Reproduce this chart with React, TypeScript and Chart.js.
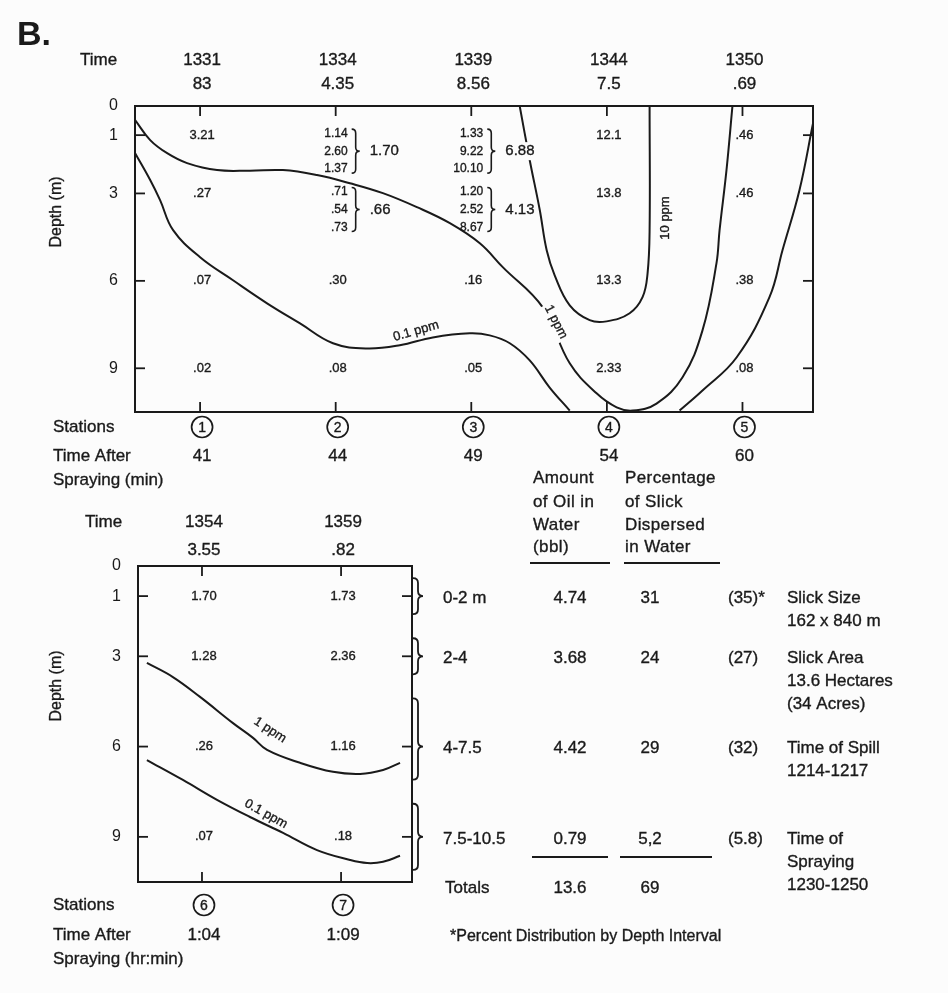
import React, { useEffect, useRef } from 'react';
import { Chart, registerables } from 'chart.js';

Chart.register(...registerables);

const W = 948;
const H = 993;
const FONT = '"Liberation Sans", Arial, Helvetica, sans-serif';
const INK = '#1a1a1a';

// ---------- axis / station data ----------
const depthTicks = [0, 1, 3, 6, 9];
const sampleDepths = [1, 3, 6, 9];

const topStations = [1, 2, 3, 4, 5];
const topTimes = ['1331', '1334', '1339', '1344', '1350'];
const topSurface = ['83', '4.35', '8.56', '7.5', '.69'];
const topMinutes = ['41', '44', '49', '54', '60'];

// concentrations (ppm) per station, per sample depth (replicates stacked)
const topConc1 = [['3.21'], ['.27'], ['.07'], ['.02']];
const topConc2 = [['1.14', '2.60', '1.37'], ['.71', '.54', '.73'], ['.30'], ['.08']];
const topConc3 = [['1.33', '9.22', '10.10'], ['1.20', '2.52', '8.67'], ['.16'], ['.05']];
const topConc4 = [['12.1'], ['13.8'], ['13.3'], ['2.33']];
const topConc5 = [['.46'], ['.46'], ['.38'], ['.08']];
const topMeans2 = ['1.70', '.66', null, null];
const topMeans3 = ['6.88', '4.13', null, null];

const botStations = [6, 7];
const botTimes = ['1354', '1359'];
const botSurface = ['3.55', '.82'];
const botElapsed = ['1:04', '1:09'];
const botConc6 = ['1.70', '1.28', '.26', '.07'];
const botConc7 = ['1.73', '2.36', '1.16', '.18'];

// contour lines [station position, depth m]
const top10ppm = [[3.357, 0], [3.431, 1.86], [3.505, 3.57], [3.556, 4.95], [3.615, 5.81], [3.726, 6.84], [3.873, 7.35], [3.998, 7.39], [4.168, 7.11], [4.263, 6.56], [4.3, 5.74], [4.315, 4.26], [4.315, 0]];
const top1ppm = [[0.521, 0.48], [0.632, 1.17], [0.757, 1.62], [0.904, 1.96], [1.125, 2.2], [1.368, 2.22], [1.611, 2.2], [1.862, 2.37], [2.105, 2.65], [2.348, 2.99], [2.599, 3.47], [2.842, 4.02], [3.063, 4.71], [3.232, 5.53], [3.527, 6.91], [3.726, 8.83], [3.924, 9.86], [4.072, 10.34], [4.19, 10.45], [4.366, 10.21], [4.558, 9.31], [4.705, 7.7], [4.808, 5.4], [4.831, 4.26], [4.882, 2.2], [4.926, 0]];
const top01ppmA = [[0.521, 1.62], [0.632, 2.54], [0.705, 3.23], [0.801, 4.26], [1.0, 5.19], [1.243, 5.98], [1.494, 6.77], [1.737, 7.46], [1.98, 8.14], [2.23, 8.32], [2.473, 8.21], [2.716, 7.94], [2.989, 7.8], [3.136, 7.87], [3.284, 8.14], [3.431, 8.73], [3.578, 9.66], [3.726, 10.45]];
const top01ppmB = [[4.536, 10.45], [4.705, 9.76], [4.956, 8.63], [5.199, 6.56], [5.295, 4.95], [5.42, 2.89], [5.52, 0.6]];
const bot1ppm = [[5.604, 3.22], [5.791, 3.69], [5.986, 4.35], [6.223, 5.22], [6.367, 5.71], [6.468, 6.11], [6.705, 6.54], [6.942, 6.84], [7.137, 6.91], [7.302, 6.78], [7.424, 6.54]];
const bot01ppm = [[5.604, 6.45], [5.863, 7.11], [6.108, 7.77], [6.345, 8.34], [6.583, 8.87], [6.827, 9.44], [7.065, 9.77], [7.187, 9.87], [7.302, 9.83], [7.424, 9.63]];

// table
const depthIntervals = ['0-2 m', '2-4', '4-7.5', '7.5-10.5'];
const intervalBounds = [[0, 2], [2, 4], [4, 7.5], [7.5, 10.5]];
const oilAmount = ['4.74', '3.68', '4.42', '0.79'];
const slickPct = ['31', '24', '29', '5,2'];
const distPct = ['(35)*', '(27)', '(32)', '(5.8)'];
const totalAmount = '13.6';
const totalPct = '69';
const notes = [['Slick Size', '162 x 840 m'], ['Slick Area', '13.6 Hectares', '(34 Acres)'], ['Time of Spill', '1214-1217'], ['Time of', 'Spraying', '1230-1250']];

// ---------- drawing helpers ----------
type TOpt = { size?: number; align?: CanvasTextAlign; weight?: string; rot?: number; bg?: boolean; sp?: number };
function txt(ctx: CanvasRenderingContext2D, s: string, x: number, y: number, o: TOpt = {}) {
  ctx.save();
  const sz = o.size || 17;
  ctx.font = `${o.weight || 'normal'} ${sz}px ${FONT}`;
  ctx.fillStyle = INK;
  ctx.strokeStyle = INK;
  ctx.textAlign = o.align || 'center';
  ctx.textBaseline = 'middle';
  if ('letterSpacing' in ctx) (ctx as any).letterSpacing = `${o.sp ?? 0}px`;
  ctx.translate(x, y);
  if (o.rot) ctx.rotate((o.rot * Math.PI) / 180);
  if (o.bg) {
    const w = ctx.measureText(s).width;
    const x0 = o.align === 'left' ? 0 : o.align === 'right' ? -w : -w / 2;
    ctx.fillStyle = '#fcfcfc';
    ctx.fillRect(x0 - 2, -sz * 0.6, w + 4, sz * 1.2);
    ctx.fillStyle = INK;
  }
  ctx.fillText(s, 0, 0);
  if (o.weight !== 'bold') {
    ctx.lineWidth = 0.35;
    ctx.strokeText(s, 0, 0);
  }
  ctx.restore();
}
function seg(ctx: CanvasRenderingContext2D, x1: number, y1: number, x2: number, y2: number, lw = 2) {
  ctx.save();
  ctx.strokeStyle = INK;
  ctx.lineWidth = lw;
  ctx.beginPath();
  ctx.moveTo(x1, y1);
  ctx.lineTo(x2, y2);
  ctx.stroke();
  ctx.restore();
}
function brace(ctx: CanvasRenderingContext2D, x: number, y1: number, y2: number, yt: number, w: number, lw = 1.6) {
  ctx.save();
  ctx.strokeStyle = INK;
  ctx.lineWidth = lw;
  ctx.beginPath();
  ctx.moveTo(x - w, y1);
  ctx.quadraticCurveTo(x, y1, x, y1 + w);
  ctx.lineTo(x, yt - w);
  ctx.quadraticCurveTo(x, yt, x + w, yt);
  ctx.quadraticCurveTo(x, yt, x, yt + w);
  ctx.lineTo(x, y2 - w);
  ctx.quadraticCurveTo(x, y2, x - w, y2);
  ctx.stroke();
  ctx.restore();
}
function circled(ctx: CanvasRenderingContext2D, x: number, y: number, n: number) {
  ctx.save();
  ctx.strokeStyle = INK;
  ctx.lineWidth = 1.7;
  ctx.beginPath();
  ctx.arc(x, y, 10.5, 0, Math.PI * 2);
  ctx.stroke();
  ctx.restore();
  txt(ctx, String(n), x, y + 1, { size: 14 });
}
function frame(ctx: CanvasRenderingContext2D, a: any) {
  ctx.save();
  ctx.strokeStyle = INK;
  ctx.lineWidth = 2;
  ctx.strokeRect(a.left, a.top, a.right - a.left, a.bottom - a.top);
  ctx.restore();
}
function innerTicks(ctx: CanvasRenderingContext2D, chart: any, stations: number[]) {
  const a = chart.chartArea;
  const { x, y } = chart.scales;
  stations.forEach((s) => {
    const px = x.getPixelForValue(s);
    seg(ctx, px, a.top, px, a.top + 10, 1.8);
    seg(ctx, px, a.bottom, px, a.bottom - 10, 1.8);
  });
  sampleDepths.forEach((d) => {
    const py = y.getPixelForValue(d);
    seg(ctx, a.left, py, a.left + 10, py, 1.8);
    seg(ctx, a.right, py, a.right - 10, py, 1.8);
  });
}

const lineDs = (label: string, pts: number[][]) => ({
  label,
  data: pts.map(([x, y]) => ({ x, y })),
  borderColor: INK,
  borderWidth: 2,
  pointRadius: 0,
  tension: 0.4,
  fill: false,
});

const yAxis = (width: number) => ({
  type: 'linear',
  reverse: true,
  min: 0,
  max: 10.5,
  afterBuildTicks: (s: any) => {
    s.ticks = depthTicks.map((v) => ({ value: v }));
  },
  afterFit: (s: any) => {
    s.width = width;
  },
  grid: { display: false, drawTicks: false },
  border: { display: false },
  ticks: { font: { family: FONT, size: 16 }, color: INK, padding: 17 },
});

// ---------- top plugin ----------
const topPlugin = {
  id: 'topFigure',
  afterDatasetsDraw(chart: any) {
    const ctx: CanvasRenderingContext2D = chart.ctx;
    const a = chart.chartArea;
    const { x, y } = chart.scales;
    frame(ctx, a);
    innerTicks(ctx, chart, topStations);

    txt(ctx, 'B.', 17, 36, { size: 34, weight: 'bold', align: 'left' });
    txt(ctx, 'Time', 80, 60, { align: 'left' });
    txt(ctx, 'Depth (m)', 57, 212, { size: 16, rot: -90 });
    txt(ctx, 'Stations', 53, 427, { align: 'left' });
    txt(ctx, 'Time After', 53, 456, { align: 'left' });
    txt(ctx, 'Spraying (min)', 53, 480, { align: 'left' });

    const concs = [topConc1, topConc2, topConc3, topConc4, topConc5];
    const means = [null, topMeans2, topMeans3, null, null];
    topStations.forEach((s, i) => {
      const px = x.getPixelForValue(s) + 2;
      txt(ctx, topTimes[i], px, 60);
      txt(ctx, topSurface[i], px, 84);
      circled(ctx, px, 427, s);
      txt(ctx, topMinutes[i], px, 456);
      sampleDepths.forEach((d, j) => {
        const py = y.getPixelForValue(d);
        const vals = concs[i][j];
        if (vals.length === 1) {
          txt(ctx, vals[0], px, py, { size: 13 });
        } else {
          const offs = [-1.5, 16.5, 34];
          vals.forEach((v, k) => txt(ctx, v, px + 10, py + offs[k], { size: 12, align: 'right' }));
          const m = means[i] ? (means[i] as any)[j] : null;
          const sp = px + 18;
          brace(ctx, sp, py - 6, py + 38, py + 16, 4, 1.6);
          if (m) txt(ctx, m, sp + 14, py + 16, { size: 15, align: 'left', bg: true });
        }
      });
    });

    txt(ctx, '10 ppm', 665, 218, { size: 13, rot: -90 });
    txt(ctx, '1 ppm', 556, 322, { size: 13, rot: 63, bg: true });
    txt(ctx, '0.1 ppm', 416, 331, { size: 13, rot: -16 });
  },
};

// ---------- bottom plugin ----------
const botPlugin = {
  id: 'botFigure',
  afterDatasetsDraw(chart: any) {
    const ctx: CanvasRenderingContext2D = chart.ctx;
    const a = chart.chartArea;
    const { x, y } = chart.scales;
    frame(ctx, a);
    innerTicks(ctx, chart, botStations);

    txt(ctx, 'Time', 85, 522, { align: 'left' });
    txt(ctx, 'Depth (m)', 57, 686, { size: 16, rot: -90 });
    txt(ctx, 'Stations', 53, 905, { align: 'left' });
    txt(ctx, 'Time After', 53, 935, { align: 'left' });
    txt(ctx, 'Spraying (hr:min)', 53, 959, { align: 'left' });

    const concs = [botConc6, botConc7];
    botStations.forEach((s, i) => {
      const px = x.getPixelForValue(s) + 2;
      txt(ctx, botTimes[i], px, 522);
      txt(ctx, botSurface[i], px, 550);
      circled(ctx, px, 905, s);
      txt(ctx, botElapsed[i], px, 935);
      sampleDepths.forEach((d, j) => txt(ctx, concs[i][j], px, y.getPixelForValue(d), { size: 13 }));
    });

    txt(ctx, '1 ppm', 270, 730, { size: 13, rot: 33 });
    txt(ctx, '0.1 ppm', 266, 814, { size: 13, rot: 29 });

    // braces for depth intervals
    intervalBounds.forEach(([lo, hi], i) => {
      const y1 = y.getPixelForValue(lo + 0.4);
      const y2 = y.getPixelForValue(hi - 0.4);
      const yt = y.getPixelForValue(sampleDepths[i]);
      brace(ctx, a.right + 6, y1, y2, yt, 5, 1.8);
    });

    // table headers
    const hA = ['Amount', 'of Oil in', 'Water', '(bbl)'];
    const hP = ['Percentage', 'of Slick', 'Dispersed', 'in Water'];
    const hy = [478, 502, 525, 547];
    hA.forEach((s, k) => txt(ctx, s, 533, hy[k], { align: 'left', sp: 0.4 }));
    hP.forEach((s, k) => txt(ctx, s, 625, hy[k], { align: 'left', sp: 0.4 }));
    seg(ctx, 530, 563, 610, 563, 1.8);
    seg(ctx, 624, 563, 720, 563, 1.8);

    depthIntervals.forEach((lab, i) => {
      const ry = y.getPixelForValue(sampleDepths[i]) + 2;
      txt(ctx, lab, 443, ry, { align: 'left' });
      txt(ctx, oilAmount[i], 570, ry);
      txt(ctx, slickPct[i], 650, ry);
      txt(ctx, distPct[i], 728, ry, { align: 'left' });
      notes[i].forEach((n, k) => txt(ctx, n, 787, ry + k * 23, { align: 'left' }));
    });
    seg(ctx, 532, 857, 608, 857, 1.8);
    seg(ctx, 620, 857, 712, 857, 1.8);
    txt(ctx, 'Totals', 445, 888, { align: 'left' });
    txt(ctx, totalAmount, 570, 888);
    txt(ctx, totalPct, 650, 888);
    txt(ctx, '*Percent Distribution by Depth Interval', 450, 937, { align: 'left', size: 16 });
  },
};

function baseOptions(pad: any, xmin: number, xmax: number, yWidth: number) {
  return {
    animation: false,
    responsive: false,
    events: [],
    layout: { padding: pad },
    plugins: { legend: { display: false }, tooltip: { enabled: false } },
    scales: {
      x: { type: 'linear', min: xmin, max: xmax, display: false },
      y: yAxis(yWidth),
    },
  };
}

export default function App() {
  const topRef = useRef<HTMLCanvasElement>(null);
  const botRef = useRef<HTMLCanvasElement>(null);

  useEffect(() => {
    const topChart = new Chart(topRef.current as HTMLCanvasElement, {
      type: 'line',
      data: {
        datasets: [
          lineDs('10 ppm', top10ppm),
          lineDs('1 ppm', top1ppm),
          lineDs('0.1 ppm', top01ppmA),
          lineDs('0.1 ppm (east)', top01ppmB),
        ],
      },
      options: baseOptions({ left: 0, top: 106, right: W - 813, bottom: H - 412 }, 0.52, 5.52, 135) as any,
      plugins: [topPlugin],
    });
    const botChart = new Chart(botRef.current as HTMLCanvasElement, {
      type: 'line',
      data: {
        datasets: [lineDs('1 ppm', bot1ppm), lineDs('0.1 ppm', bot01ppm)],
      },
      options: baseOptions({ left: 0, top: 566, right: W - 412, bottom: H - 882 }, 5.54, 7.51, 138) as any,
      plugins: [botPlugin],
    });
    return () => {
      topChart.destroy();
      botChart.destroy();
    };
  }, []);

  return (
    <div style={{ position: 'absolute', left: 0, top: 0, width: W, height: H, background: '#fcfcfc', overflow: 'hidden' }}>
      <canvas ref={botRef} width={W} height={H} style={{ position: 'absolute', left: 0, top: 0 }} />
      <canvas ref={topRef} width={W} height={H} style={{ position: 'absolute', left: 0, top: 0 }} />
    </div>
  );
}
